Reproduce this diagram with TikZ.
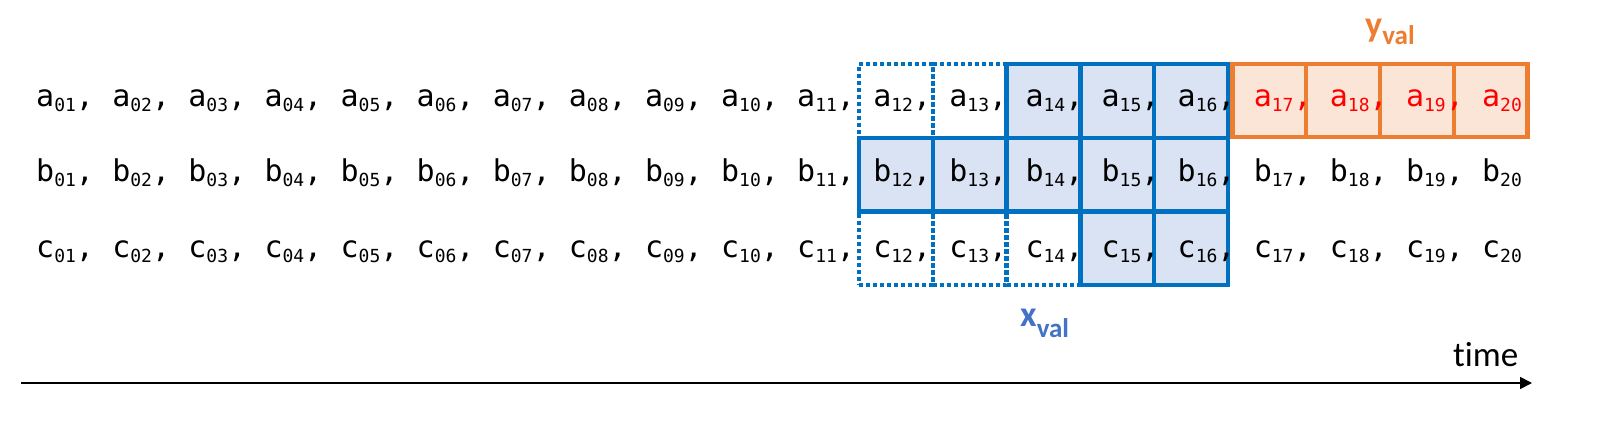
\documentclass[tikz,border=0pt]{standalone}
\usepackage{fontspec}
\newfontfamily\monof{DejaVu Sans Mono}
\newfontfamily\calf[Ligatures=NoCommon]{Carlito}
\usetikzlibrary{arrows.meta}
\definecolor{bluec}{HTML}{0070C0}
\definecolor{bluef}{HTML}{DAE3F3}
\definecolor{orc}{HTML}{ED7D31}
\definecolor{orf}{HTML}{FBE5D6}
\definecolor{lblblue}{HTML}{4472C4}
\definecolor{redt}{HTML}{FF0000}
\newcommand\itm[3]{#1\raisebox{-5.5pt}{\fontsize{18}{18}\selectfont #2}#3}
\begin{document}
\begin{tikzpicture}[x=1pt,y=-1pt,
 cell/.style={rectangle,minimum width=73.8pt,minimum height=73.7pt,inner sep=0pt,outer sep=0pt,line width=4.3pt},
 xcell/.style={cell,draw=bluec,fill=bluef},
 dcell/.style={cell,draw=bluec,dash pattern=on 4pt off 3pt},
 ycell/.style={rectangle,minimum width=73.75pt,minimum height=73pt,inner sep=0pt,outer sep=0pt,line width=4.3pt,draw=orc,fill=orf},
 item/.style={anchor=base west,inner sep=0pt,font=\monof\fontsize{30}{30}\selectfont},
 lbl/.style={anchor=base west,inner sep=0pt},
]
\useasboundingbox (0,0) rectangle (1621,423);
% dotted (unfilled) cells
\node[dcell] (ca12) at (895.9,100.85) {};
\node[dcell] (ca13) at (969.7,100.85) {};
\node[dcell] (cc12) at (895.9,248.25) {};
\node[dcell] (cc13) at (969.7,248.25) {};
\node[dcell] (cc14) at (1043.5,248.25) {};
% filled x_val cells
\node[xcell] (ca14) at (1043.5,100.85) {};
\node[xcell] (ca15) at (1117.3,100.85) {};
\node[xcell] (ca16) at (1191.1,100.85) {};
\node[xcell] (cb12) at (895.9,174.55) {};
\node[xcell] (cb13) at (969.7,174.55) {};
\node[xcell] (cb14) at (1043.5,174.55) {};
\node[xcell] (cb15) at (1117.3,174.55) {};
\node[xcell] (cb16) at (1191.1,174.55) {};
\node[xcell] (cc15) at (1117.3,248.25) {};
\node[xcell] (cc16) at (1191.1,248.25) {};
% y_val cells
\node[ycell] (ca17) at (1269.4,100.5) {};
\node[ycell] (ca18) at (1343.1,100.5) {};
\node[ycell] (ca19) at (1416.9,100.5) {};
\node[ycell] (ca20) at (1490.6,100.5) {};
% items
\foreach \r/\yy in {b/181,c/257}{
  \foreach \i in {1,...,19}{
    \pgfmathsetmacro\xx{36+76.1*(\i-1)}
    \node[item] (\r\i) at (\xx,\yy) {\itm{\r}{\ifnum\i<10 0\fi\i}{,}};
  }
  \node[item] (\r20) at (1481.9,\yy) {\itm{\r}{20}{}};
}
\foreach \i in {1,...,16}{
  \pgfmathsetmacro\xx{36+76.1*(\i-1)}
  \node[item] (a\i) at (\xx,106) {\itm{a}{\ifnum\i<10 0\fi\i}{,}};
}
\foreach \i in {17,18,19}{
  \pgfmathsetmacro\xx{36+76.1*(\i-1)}
  \node[item,text=redt] (a\i) at (\xx,106) {\itm{a}{\i}{,}};
}
\node[item,text=redt] (a20) at (1481.9,106) {\itm{a}{20}{}};
% labels
\node[lbl,text=lblblue,font=\calf\bfseries\fontsize{36}{36}\selectfont] (xval) at (1020,326.7) {x\raisebox{-10.6pt}{\fontsize{27}{27}\selectfont val}};
\node[lbl,text=orc,font=\calf\bfseries\fontsize{36}{36}\selectfont] (yval) at (1365,36) {y\raisebox{-8.5pt}{\fontsize{27}{27}\selectfont val}};
\node[lbl,font=\calf\fontsize{35}{35}\selectfont] (time) at (1453,366) {time};
% time axis
\coordinate (tstart) at (21,383);
\coordinate (tend) at (1532,383);
\draw[line width=1.7pt,-{Triangle[length=12pt,width=12pt]}] (tstart) -- (tend);
\end{tikzpicture}
\end{document}
